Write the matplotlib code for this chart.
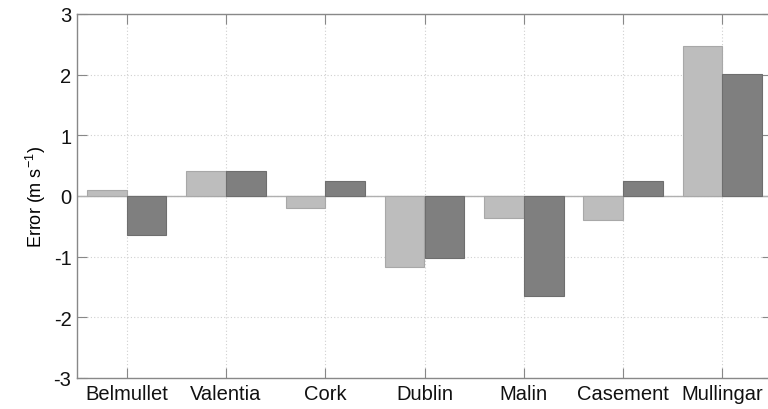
import matplotlib
matplotlib.use("Agg")
import matplotlib.pyplot as plt
import numpy as np

stations = ["Belmullet", "Valentia", "Cork", "Dublin", "Malin", "Casement", "Mullingar"]
series_a = [0.10, 0.42, -0.20, -1.17, -0.37, -0.40, 2.47]
series_b = [-0.64, 0.42, 0.25, -1.02, -1.65, 0.25, 2.01]
yticks = [-3, -2, -1, 0, 1, 2, 3]

plt.rcParams['font.family'] = ['Liberation Sans', 'DejaVu Sans']
fig = plt.figure(figsize=(7.68, 4.10), dpi=100)
ax = fig.add_axes([77/768, 31/410, 695/768, 364/410])

x = np.arange(1, len(stations) + 1)
w = 0.4
ax.bar(x - w/2, series_a, width=w, color="#bdbdbd", edgecolor="#a8a8a8", linewidth=0.8, zorder=3)
ax.bar(x + w/2, series_b, width=w, color="#7f7f7f", edgecolor="#6e6e6e", linewidth=0.8, zorder=3)
ax.axhline(0, color="#b0b0b0", linewidth=1.0, zorder=2)

ax.set_xlim(0.5, 7.5)
ax.set_ylim(-3, 3)
ax.set_xticks(x)
ax.set_xticklabels(stations)
ax.set_yticks(yticks)
ax.set_yticklabels([str(v) for v in yticks])
ax.grid(True, linestyle=(0, (1, 2)), color="#d0d0d0", linewidth=0.8, zorder=0)
ax.tick_params(direction="in", length=7, color="#888888", labelsize=14.5, labelcolor="#111111",
               top=True, right=True, pad=4)
for s in ax.spines.values():
    s.set_color("#888888")
    s.set_linewidth(1.0)
ax.set_ylabel("Error (m s$^{\\mathregular{-1}}$)", fontsize=13, labelpad=4)
fig.savefig("out.png", dpi=100)
